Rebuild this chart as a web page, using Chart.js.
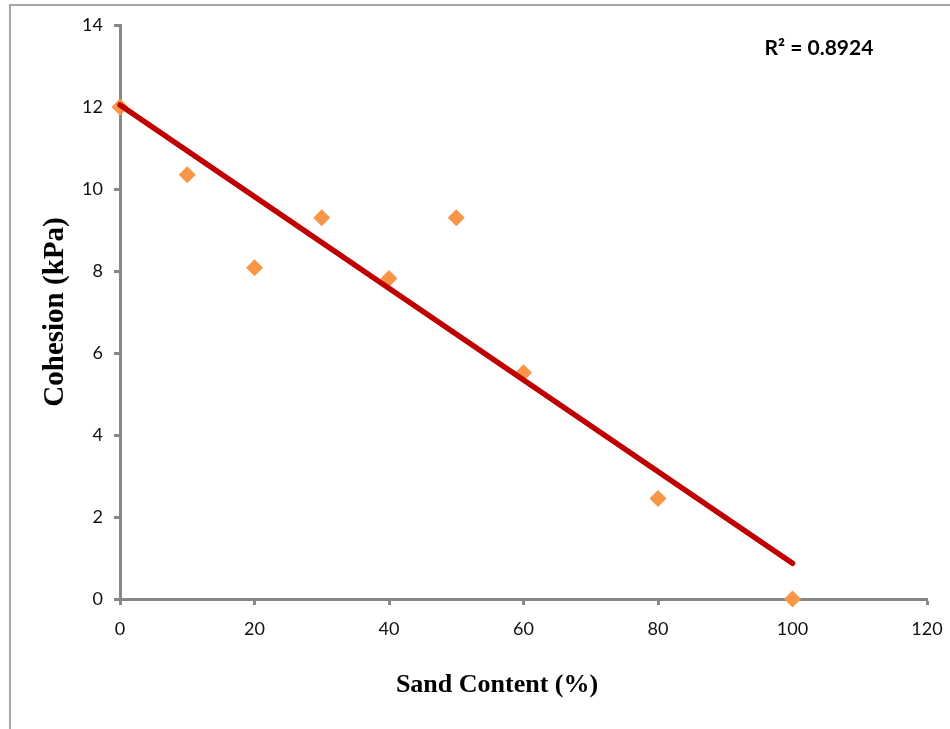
<!DOCTYPE html>
<html>
<head>
<meta charset="utf-8">
<script src="https://cdn.jsdelivr.net/npm/chart.js@4.4.1/dist/chart.umd.min.js"></script>
<style>
  html, body { margin: 0; padding: 0; background: #fff; }
  #wrap { width: 950px; height: 729px; position: relative; }
</style>
</head>
<body>
<div id="wrap"><canvas id="myChart"></canvas></div>
<script>
// sand content (%) and measured cohesion (kPa)
const sandContent = [0, 10, 20, 30, 40, 50, 60, 80, 100];
const cohesion = [12.0, 10.35, 8.08, 9.3, 7.82, 9.3, 5.52, 2.45, 0.0];

// linear trendline ends as drawn in the picture
const trendX = [0, 100];
const trendY = [12.05, 0.87];

const xTicks = [0, 20, 40, 60, 80, 100, 120];
const yTicks = [0, 2, 4, 6, 8, 10, 12, 14];
const rSquaredLabel = "R² = 0.8924";
const xTitle = "Sand Content (%)";
const yTitle = "Cohesion (kPa)";

const axisGrey = "#878787";

// frame lines, R² label and x-axis title
const extras = {
  id: "extras",
  beforeDraw(chart) {
    const ctx = chart.ctx;
    ctx.save();
    ctx.strokeStyle = "#a6a6a6";
    ctx.lineWidth = 2;
    ctx.beginPath();
    ctx.moveTo(950, 5);
    ctx.lineTo(10, 5);
    ctx.lineTo(10, 729);
    ctx.stroke();
    ctx.restore();
  },
  afterDraw(chart) {
    const ctx = chart.ctx;
    ctx.save();
    ctx.fillStyle = "#000";
    ctx.textAlign = "center";
    ctx.textBaseline = "middle";
    ctx.font = "bold 21px Lato";
    ctx.fillText(rSquaredLabel, 819, 48);
    ctx.font = "bold 26px 'Liberation Serif'";
    ctx.fillText(xTitle, 497, 685);
    ctx.restore();
  }
};

const ctx = document.getElementById("myChart").getContext("2d");
const myChart = new Chart(ctx, {
  type: "scatter",
  data: {
    datasets: [
      {
        label: "Trend",
        data: trendX.map((x, i) => ({ x: x, y: trendY[i] })),
        showLine: true,
        borderColor: "#c00000",
        borderWidth: 5.5,
        borderCapStyle: "round",
        pointRadius: 0,
        clip: false,
        order: 0,
      },
      {
        label: "Cohesion",
        data: sandContent.map((x, i) => ({ x: x, y: cohesion[i] })),
        pointStyle: "rectRot",
        pointRadius: 8.5,
        backgroundColor: "#f79646",
        borderColor: "#f79646",
        borderWidth: 0,
        clip: false,
        order: 1,
      },
    ],
  },
  options: {
    responsive: true,
    maintainAspectRatio: false,
    animation: false,
    layout: { padding: { left: 0, right: 23, top: 25, bottom: 0 } },
    plugins: {
      legend: { display: false },
      tooltip: { enabled: false },
    },
    scales: {
      x: {
        type: "linear",
        min: 0,
        max: 120,
        afterFit: (scale) => {
          scale.height = 130;
          scale.paddingLeft = 0;
          scale.paddingRight = 0;
        },
        afterBuildTicks: (scale) => { scale.ticks = xTicks.map((v) => ({ value: v })); },
        border: { color: axisGrey, width: 3 },
        grid: { drawOnChartArea: false, tickLength: 6, tickWidth: 3, tickColor: axisGrey },
        ticks: { color: "#111", font: { family: "Lato", size: 18 }, padding: 13, maxRotation: 0 },
      },
      y: {
        type: "linear",
        min: 0,
        max: 14,
        afterFit: (scale) => {
          scale.width = 120;
          scale.paddingTop = 0;
          scale.paddingBottom = 0;
        },
        afterBuildTicks: (scale) => { scale.ticks = yTicks.map((v) => ({ value: v })); },
        border: { color: axisGrey, width: 3 },
        grid: { drawOnChartArea: false, tickLength: 6, tickWidth: 3, tickColor: axisGrey },
        ticks: { color: "#111", font: { family: "Lato", size: 18 }, padding: 11 },
        title: {
          display: true,
          text: yTitle,
          color: "#000",
          font: { family: "Liberation Serif", size: 29, weight: "bold" },
          padding: { top: 38, bottom: 0 },
        },
      },
    },
  },
  plugins: [extras],
});
</script>
</body>
</html>
